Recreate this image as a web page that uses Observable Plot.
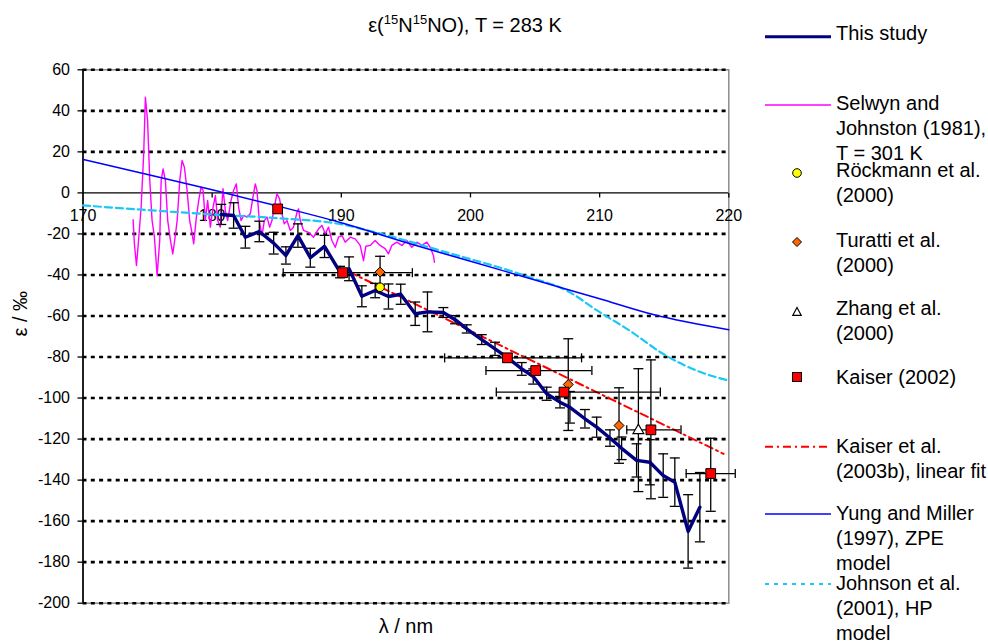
<!DOCTYPE html>
<html><head><meta charset="utf-8">
<script src="https://cdn.jsdelivr.net/npm/d3@7"></script>
<script src="https://cdn.jsdelivr.net/npm/@observablehq/plot@0.6"></script>
<style>
body{margin:0;background:#fff;font-family:"Liberation Sans",Arial,sans-serif;}
#wrap{position:relative;width:988px;height:641px;overflow:hidden;background:#fff;}
#wrap > svg{position:absolute;left:0;top:0;}
#title{position:absolute;left:465px;top:8px;transform:translateX(-50%);font-size:20px;line-height:23px;white-space:nowrap;color:#000;}
#title sup{font-size:13px;}
.leg{position:absolute;left:836px;font-size:20px;line-height:25px;white-space:nowrap;color:#000;}
</style></head><body><div id="wrap"><div id="title">ε(<sup>15</sup>N<sup>15</sup>NO), T = 283 K</div></div>
<script>
// ---------- data ----------
const xTicks = [170, 180, 190, 200, 210, 220];
const yTicks = [60, 40, 20, 0, -20, -40, -60, -80, -100, -120, -140, -160, -180, -200];

// This study
const studyL = [180.7,181.66,182.57,183.65,184.76,185.71,186.64,187.6,188.7,189.9,190.6,191.59,192.62,193.65,194.6,195.72,196.67,197.9,198.81,199.71,200.87,201.9,202.86,203.97,204.86,205.9,206.93,207.7,208.86,209.77,210.8,211.7,212.86,213.89,214.92,215.82,216.85,217.76];
const studyE = [-10.5,-11,-21.6,-18.8,-24.5,-30.5,-20.8,-31.6,-26.1,-38.6,-37,-50.4,-47.6,-50.5,-49.4,-58.9,-58,-58.3,-61.8,-66.3,-71.5,-76,-80.3,-85.8,-89.5,-97.9,-102,-104.5,-110.1,-114.2,-119.5,-124.5,-130.4,-131.3,-137.8,-141,-165,-153.2];
const studyErr = [4.9,6.2,5.3,5,5.3,4.2,5.7,4.6,5.4,2.8,5.8,5.1,3.5,6.1,4.9,5.7,9.7,2.4,2,2,2.4,3.2,2,3.1,3.7,3.2,2.8,7.7,4.5,4.9,4,5.5,8.1,11,10.6,11.8,17.9,16.9];

// Selwyn and Johnston (1981), T = 301 K
const selwynL = [173.88,173.98,174.14,174.32,174.5,174.7,174.83,175.0,175.17,175.35,175.53,175.74,175.94,176.05,176.2,176.38,176.56,176.77,176.95,177.1,177.29,177.49,177.67,177.85,178.06,178.26,178.45,178.57,178.78,178.96,179.14,179.3,179.47,179.65,179.86,180.07,180.25,180.43,180.63,180.84,181.02,181.2,181.46,181.66,181.87,182.05,182.24,182.44,182.7,182.95,183.16,183.34,183.47,183.65,183.86,184.04,184.25,184.45,184.63,184.81,185.02,185.22,185.41,185.58,185.79,186.05,186.3,186.57,186.69,186.82,187.08,187.46,187.85,188.24,188.5,188.76,189.01,189.27,189.53,189.78,190.05,190.3,190.69,191.07,191.46,191.72,191.9,192.24,192.62,193.0,193.39,193.65,193.91,194.3,194.69,195.07,195.46,195.85,196.23,196.62,196.88,197.13,197.21];
const selwynE = [-13.1,-24.8,-35.4,-21.6,-7.0,19.1,46.7,35.3,6.0,-13.5,-21.6,-40.3,-23.2,6.0,11.7,6.0,-13.5,-23.2,-29.7,-23.2,-13.5,6.0,15.8,12.5,1.2,-13.5,-19.9,-24.8,-11.8,-3.7,2.8,1.2,-13.5,-3.7,-16.7,-7.0,-1.3,-13.5,-16.7,2.0,-8.6,-13.5,-3.7,1.2,4.4,-7.0,-13.5,-11.0,-11.8,-10.2,-2.1,4.4,1.2,-13.5,-20.8,-13.5,-11.8,-16.7,-13.5,-7.0,-0.4,-2.9,-10.2,-15.1,-13.5,-18.3,-16.7,-9.4,-7.8,-13.5,-18.3,-19.2,-21.6,-17.5,-15.9,-19.9,-16.7,-23.2,-26.5,-21.6,-20.8,-24.0,-21.6,-22.4,-25.6,-33,-26,-25.6,-23.2,-25.6,-27.2,-29.7,-25.6,-24.0,-25.6,-23.2,-26.5,-24.0,-25.6,-24.0,-26.5,-30.5,-33.8];

// Röckmann et al. (2000)
const rockL = [193.0];
const rockE = [-46.0];
// Turatti et al. (2000)
const turL = [193.0, 207.57, 211.5];
const turE = [-38.6, -93.4, -113.4];
const turYlo = [-45.1, -115.8, -131.8];
const turYhi = [-30.9, -71.1, -95.0];
// Zhang et al. (2000)
const zhaL = [213.0];
const zhaE = [-115.8];
const zhaYlo = [-145.6];
const zhaYhi = [-85.7];
// Kaiser (2002)
const kaiL = [185.07, 190.1, 202.86, 205.05, 207.24, 213.97, 218.6];
const kaiE = [-7.8, -38.9, -80.4, -86.6, -97.1, -115.5, -136.8];
const kaiXlo = [null, 185.5, 198.0, 201.2, 202.0, 212.1, 216.7];
const kaiXhi = [null, 195.5, 208.6, 209.4, 214.7, 216.3, 220.5];
const kaiYlo = [null, null, null, null, null, -149.1, -155.2];
const kaiYhi = [null, null, null, null, null, -81.4, -119.6];
// Kaiser et al. (2003b), linear fit
const fitL = [190.6, 219.6];
const fitE = [-38.5, -127.2];
// Yung and Miller (1997), ZPE model
const yungL = [170, 175, 180, 185, 190, 195, 200, 205, 210, 214.15, 220];
const yungE = [16.3, 9.0, 1.5, -6.3, -14.6, -24.2, -33.3, -42.5, -51.6, -59.3, -66.7];
// Johnson et al. (2001), HP model
const johL = [170, 175, 180, 185, 190, 192.5, 195, 197.65, 200, 203, 205, 206.9, 207.7, 209.8, 212.3, 214.9, 217.5, 220];
const johE = [-6.1, -8.4, -10.5, -12.3, -15.3, -19, -23.2, -28.1, -32.3, -37.8, -42, -46, -48.5, -57.3, -67, -78.4, -86.6, -91.5];

const legendLabels = [
  "This study",
  "Selwyn and\nJohnston (1981),\nT = 301 K",
  "Röckmann et al.\n(2000)",
  "Turatti et al.\n(2000)",
  "Zhang et al.\n(2000)",
  "Kaiser (2002)",
  "Kaiser et al.\n(2003b), linear fit",
  "Yung and Miller\n(1997), ZPE\nmodel",
  "Johnson et al.\n(2001), HP\nmodel"
];

// ---------- tables ----------
const zip = (L, E) => L.map((l, i) => ({l, e: E[i]}));
const study = studyL.map((l, i) => ({l, e: studyE[i], lo: studyE[i] - studyErr[i], hi: studyE[i] + studyErr[i]}));
const selwyn = zip(selwynL, selwynE);
const rock = zip(rockL, rockE);
const tur = turL.map((l, i) => ({l, e: turE[i], lo: turYlo[i], hi: turYhi[i]}));
const zha = zhaL.map((l, i) => ({l, e: zhaE[i], lo: zhaYlo[i], hi: zhaYhi[i]}));
const kai = kaiL.map((l, i) => ({l, e: kaiE[i], xlo: kaiXlo[i], xhi: kaiXhi[i], lo: kaiYlo[i], hi: kaiYhi[i]}));
const kaiV = kai.filter(d => d.lo != null);
const kaiH = kai.filter(d => d.xlo != null);
const fit = zip(fitL, fitE);
const yung = zip(yungL, yungE);
const joh = zip(johL, johE);
const vbars = [...study, ...tur, ...zha, ...kaiV];

// ---------- symbols ----------
const capH = {draw(c) { c.moveTo(-5, 0); c.lineTo(5, 0); }};
const capV = {draw(c) { c.moveTo(0, -4.5); c.lineTo(0, 4.5); }};
const tickDown = {draw(c) { c.moveTo(0, 0); c.lineTo(0, 4.5); }};

const FONT = '"Liberation Sans", Arial, sans-serif';

const chart = Plot.plot({
  width: 750, height: 641,
  marginLeft: 82.5, marginRight: 21.7, marginTop: 69.3, marginBottom: 38.3,
  x: {domain: [170, 220], axis: null},
  y: {domain: [-200, 60]},
  style: {fontFamily: FONT, fontSize: "16px", background: "transparent", overflow: "visible", color: "black"},
  marks: [
    Plot.frame({stroke: "#8c8c8c", strokeWidth: 1.5}),
    Plot.ruleY(yTicks.filter(d => d !== 0), {y: d => d, stroke: "black", strokeWidth: 2.6, strokeDasharray: "4,4.3"}),
    Plot.ruleY([0], {y: d => d, stroke: "black", strokeWidth: 1.3}),
    Plot.ruleX([xTicks[0]], {x: d => d, stroke: "black", strokeWidth: 1.6}),
    Plot.axisY({ticks: yTicks, tickSize: 5, tickPadding: 8, tickFormat: d => String(d), fontSize: 16, label: null, anchor: "left", strokeWidth: 1.3}),
    Plot.dot(xTicks.slice(1), {x: d => d, y: 0, symbol: tickDown, stroke: "black", fill: "none", strokeWidth: 1.3}),
    Plot.text(xTicks, {x: d => d, y: 0, dy: 23, text: d => String(d), fontSize: 16, fill: "black"}),
    Plot.text(["ε / ‰"], {frameAnchor: "left", dx: -62, rotate: -90, text: d => d, fontSize: 20, fill: "black"}),
    Plot.text(["λ / nm"], {frameAnchor: "bottom", dy: 30, text: d => d, fontSize: 20, fill: "black"}),
    // model / literature lines
    Plot.line(selwyn, {x: "l", y: "e", stroke: "#ff00ff", strokeWidth: 1.4}),
    Plot.line(joh, {x: "l", y: "e", stroke: "#19c8f5", strokeWidth: 2.2, strokeDasharray: "7,4", curve: "monotone-x"}),
    Plot.line(yung, {x: "l", y: "e", stroke: "#0000ff", strokeWidth: 1.5, curve: "monotone-x"}),
    Plot.line(fit, {x: "l", y: "e", stroke: "#ff0000", strokeWidth: 2, strokeDasharray: "8,4,2,4"}),
    // error bars
    Plot.ruleX(vbars, {x: "l", y1: "lo", y2: "hi", stroke: "black", strokeWidth: 1.3}),
    Plot.dot(vbars, {x: "l", y: "lo", symbol: capH, stroke: "black", fill: "none", strokeWidth: 1.3}),
    Plot.dot(vbars, {x: "l", y: "hi", symbol: capH, stroke: "black", fill: "none", strokeWidth: 1.3}),
    Plot.ruleY(kaiH, {y: "e", x1: "xlo", x2: "xhi", stroke: "black", strokeWidth: 1.3}),
    Plot.dot(kaiH, {x: "xlo", y: "e", symbol: capV, stroke: "black", fill: "none", strokeWidth: 1.3}),
    Plot.dot(kaiH, {x: "xhi", y: "e", symbol: capV, stroke: "black", fill: "none", strokeWidth: 1.3}),
    // this study
    Plot.line(study, {x: "l", y: "e", stroke: "#000080", strokeWidth: 3.4}),
    // markers
    Plot.dot(rock, {x: "l", y: "e", symbol: "circle", r: 4.3, fill: "#ffff00", stroke: "black", strokeWidth: 1}),
    Plot.dot(tur, {x: "l", y: "e", symbol: "diamond2", r: 4.5, fill: "#ff6600", stroke: "black", strokeWidth: 1}),
    Plot.dot(zha, {x: "l", y: "e", symbol: "triangle", r: 4, fill: "white", stroke: "black", strokeWidth: 1.2}),
    Plot.dot(kai, {x: "l", y: "e", symbol: "square", r: 5.5, fill: "#ff0000", stroke: "black", strokeWidth: 1})
  ]
});
const wrap = document.getElementById("wrap");
wrap.appendChild(chart);

// ---------- legend ----------
const legendLayout = [
  {kind: "line", stroke: "#000080", w: 3, dash: null, y: 36.7, top: 21.3},
  {kind: "line", stroke: "#ff00ff", w: 1.5, dash: null, y: 105, top: 91.3},
  {kind: "circle", y: 173, top: 158.3},
  {kind: "diamond", y: 242, top: 228},
  {kind: "triangle", y: 312, top: 295.5},
  {kind: "square", y: 377, top: 365},
  {kind: "line", stroke: "#ff0000", w: 2, dash: "8,4,2,4", y: 446.7, top: 434},
  {kind: "line", stroke: "#0000ff", w: 1.5, dash: null, y: 514, top: 501},
  {kind: "line", stroke: "#19c8f5", w: 2, dash: "4,5", y: 584, top: 571}
];
const lsvg = d3.create("svg").attr("width", 988).attr("height", 641)
  .style("position", "absolute").style("left", 0).style("top", 0).style("pointer-events", "none");
const mx = 797;
legendLayout.forEach((it, i) => {
  if (it.kind === "line") {
    lsvg.append("line").attr("x1", 765).attr("x2", 831).attr("y1", it.y).attr("y2", it.y)
      .attr("stroke", it.stroke).attr("stroke-width", it.w).attr("stroke-dasharray", it.dash);
  } else if (it.kind === "circle") {
    lsvg.append("circle").attr("cx", mx).attr("cy", it.y).attr("r", 4.3).attr("fill", "#ffff00").attr("stroke", "black");
  } else if (it.kind === "diamond") {
    lsvg.append("path").attr("d", `M${mx},${it.y - 4.5}L${mx + 4.5},${it.y}L${mx},${it.y + 4.5}L${mx - 4.5},${it.y}Z`).attr("fill", "#ff6600").attr("stroke", "black");
  } else if (it.kind === "triangle") {
    lsvg.append("path").attr("d", `M${mx},${it.y - 4.5}L${mx + 4.2},${it.y + 3.3}L${mx - 4.2},${it.y + 3.3}Z`).attr("fill", "white").attr("stroke", "black").attr("stroke-width", 1.2);
  } else if (it.kind === "square") {
    lsvg.append("rect").attr("x", mx - 4.5).attr("y", it.y - 4.5).attr("width", 9).attr("height", 9).attr("fill", "#ff0000").attr("stroke", "black");
  }
  const div = document.createElement("div");
  div.className = "leg";
  div.style.top = it.top + "px";
  div.innerHTML = legendLabels[i].split("\n").join("<br>");
  wrap.appendChild(div);
});
wrap.appendChild(lsvg.node());
</script></body></html>
